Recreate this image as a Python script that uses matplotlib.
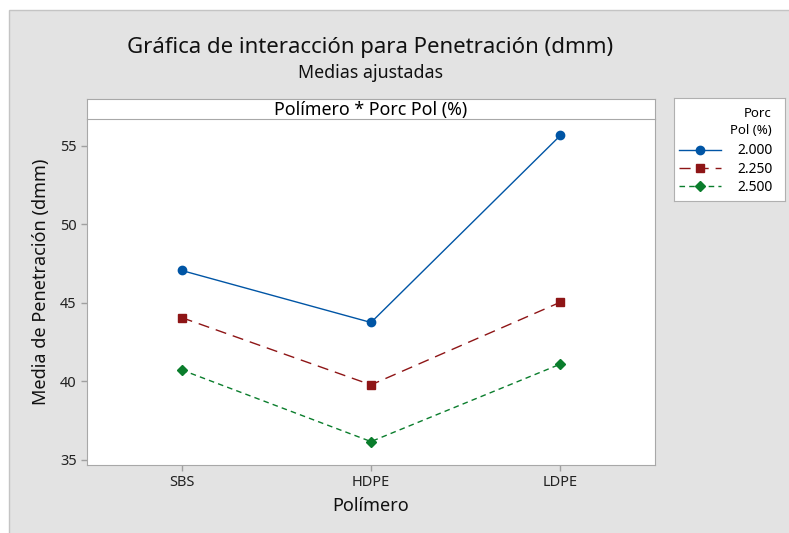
import matplotlib.pyplot as plt
from matplotlib.patches import Rectangle
from matplotlib.lines import Line2D

plt.rcParams["font.family"] = ["Noto Sans", "DejaVu Sans"]

# Medias ajustadas de penetración por polímero y porcentaje
polimeros = ["SBS", "HDPE", "LDPE"]
porc_pol = ["2.000", "2.250", "2.500"]
media_2000 = [47.06, 43.75, 55.65]
media_2250 = [44.06, 39.78, 45.04]
media_2500 = [40.73, 36.17, 41.10]

series = [media_2000, media_2250, media_2500]
colores = ["#0055a5", "#8e1516", "#0a7d2c"]
marcadores = ["o", "s", "D"]
estilos = ["-", (0, (8, 5)), (0, (4, 3))]
tam = [6, 6.2, 5.6]

W, H = 789, 533
fig = plt.figure(figsize=(W / 100, H / 100), dpi=100)
fig.patch.set_facecolor("white")
fondo = Rectangle((9 / W, -0.05), 1.1, 1.05 - 10 / H, transform=fig.transFigure,
                  facecolor="#e3e3e3", edgecolor="#c4c4c4", linewidth=1, zorder=-10)
fig.patches.append(fondo)


def caja(x0, y0, x1, y1):
    return [x0 / W, 1 - y1 / H, (x1 - x0) / W, (y1 - y0) / H]


ax = fig.add_axes(caja(87, 119, 655, 465))
x = range(len(polimeros))
for vals, c, m, ls, ms in zip(series, colores, marcadores, estilos, tam):
    ax.plot(x, vals, color=c, marker=m, linestyle=ls, linewidth=1, markersize=ms)

ax.set_xlim(-0.5, 2.5)
ax.set_ylim(34.68, 56.7)
ax.set_yticks([35, 40, 45, 50, 55])
ax.set_xticks(list(x))
ax.set_xticklabels(polimeros)
ax.tick_params(colors="#a0a0a0", labelcolor="#222222", labelsize=10.5, length=4, width=1)
for s in ax.spines.values():
    s.set_color("#a8a8a8")
ax.spines["top"].set_visible(False)
ax.set_xlabel("Polímero", fontsize=13, color="#111111", labelpad=5)
ax.set_ylabel("Media de Penetración (dmm)", fontsize=13, color="#111111",
              labelpad=7, y=0.529)

# Franja del encabezado
hdr = fig.add_axes(caja(87, 99, 655, 119))
hdr.set_xticks([])
hdr.set_yticks([])
for s in hdr.spines.values():
    s.set_color("#a8a8a8")
hdr.text(0.5, 0.45, "Polímero * Porc Pol (%)", ha="center", va="center", fontsize=12.8)

fig.text(370 / W, 1 - 47 / H, "Gráfica de interacción para Penetración (dmm)",
         ha="center", va="center", fontsize=16, color="#111111")
fig.text(370 / W, 1 - 73 / H, "Medias ajustadas", ha="center", va="center",
         fontsize=12.8, color="#111111")

# Leyenda
lg = fig.add_axes(caja(674, 98, 785, 201))
lg.set_xlim(0, 1)
lg.set_ylim(0, 1)
lg.set_xticks([])
lg.set_yticks([])
for s in lg.spines.values():
    s.set_color("#b0b0b0")
lg.text(0.88, 0.854, "Porc", ha="right", va="center", fontsize=9.5, fontweight="bold")
lg.text(0.88, 0.689, "Pol (%)", ha="right", va="center", fontsize=9.5, fontweight="bold")
handles = [Line2D([], [], color=c, marker=m, linestyle=ls, linewidth=1, markersize=ms)
           for c, m, ls, ms in zip(colores, marcadores, estilos, tam)]
leg = lg.legend(handles, porc_pol, loc="upper left", bbox_to_anchor=(0.01, 0.60),
                borderaxespad=0, frameon=False, fontsize=10, handlelength=3.0,
                handletextpad=1.15, labelspacing=0.25, borderpad=0.3)
for t in leg.get_texts():
    t.set_fontweight("bold")

fig.savefig("out.png", dpi=100, facecolor=fig.get_facecolor())
